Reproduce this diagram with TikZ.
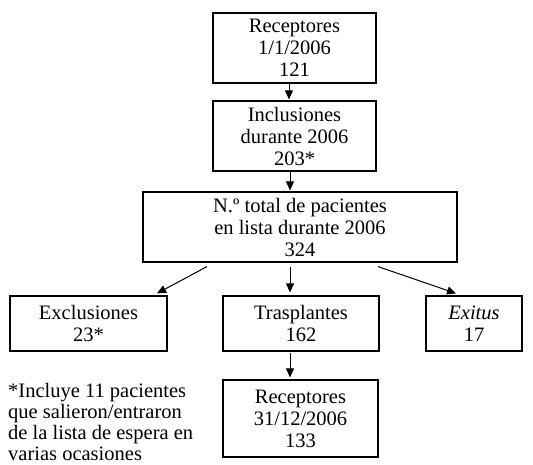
\documentclass[tikz,border=0pt]{standalone}
\usepackage{fontspec}
\setmainfont{Liberation Serif}
\usetikzlibrary{arrows.meta}
\begin{document}
\begin{tikzpicture}[x=1pt,y=1pt,
  box/.style={draw=black, line width=1.2pt, rectangle, inner sep=0pt, align=center,
    font=\fontsize{20.5}{22}\selectfont},
  arr/.style={line width=1pt, -{Triangle[length=9pt,width=8pt]}},
  note/.style={inner sep=0pt, align=left, font=\fontsize{20.5}{21}\selectfont}]
\useasboundingbox (0,0) rectangle (533,464);
\node[box, minimum width=163, minimum height=70] (b1) at (294.5,416) {Receptores\\1/1/2006\\121};
\node[box, minimum width=163, minimum height=70] (b2) at (294.5,328) {Inclusiones\\durante 2006\\203*};
\node[box, minimum width=314, minimum height=70] (b3) at (300,237) {N.º total de pacientes\\en lista durante 2006\\324};
\node[box, minimum width=157, minimum height=55] (ex) at (88.5,140.5) {Exclusiones\\23*};
\node[box, minimum width=156, minimum height=55] (tr) at (301,140.5) {Trasplantes\\162};
\node[box, minimum width=96, minimum height=55] (et) at (474,140.5) {\textit{Exitus}\\17};
\node[box, minimum width=155, minimum height=77] (r2) at (300.5,45.5) {Receptores\\31/12/2006\\133};
\node[note, anchor=north west] (fn) at (8,81) {*Incluye 11 pacientes\\que salieron/entraron\\de la lista de espera en\\varias ocasiones};
\draw[arr] ([xshift=-5.5pt]b1.south) -- ([xshift=-5.5pt,yshift=1pt]b2.north);
\draw[arr] ([xshift=-4.5pt]b2.south) -- ([xshift=-10pt,yshift=1pt]b3.north);
\draw[arr] ([xshift=-93pt,yshift=-4pt]b3.south) -- ([xshift=68.5pt,yshift=2pt]ex.north);
\draw[arr] ([xshift=-10pt,yshift=-4pt]b3.south) -- ([xshift=-11pt,yshift=3pt]tr.north);
\draw[arr] ([xshift=78pt,yshift=-4pt]b3.south) -- ([xshift=-18pt,yshift=2pt]et.north);
\draw[arr] ([xshift=-11pt,yshift=-1pt]tr.south) -- ([xshift=-10.5pt,yshift=2pt]r2.north);
\end{tikzpicture}
\end{document}
